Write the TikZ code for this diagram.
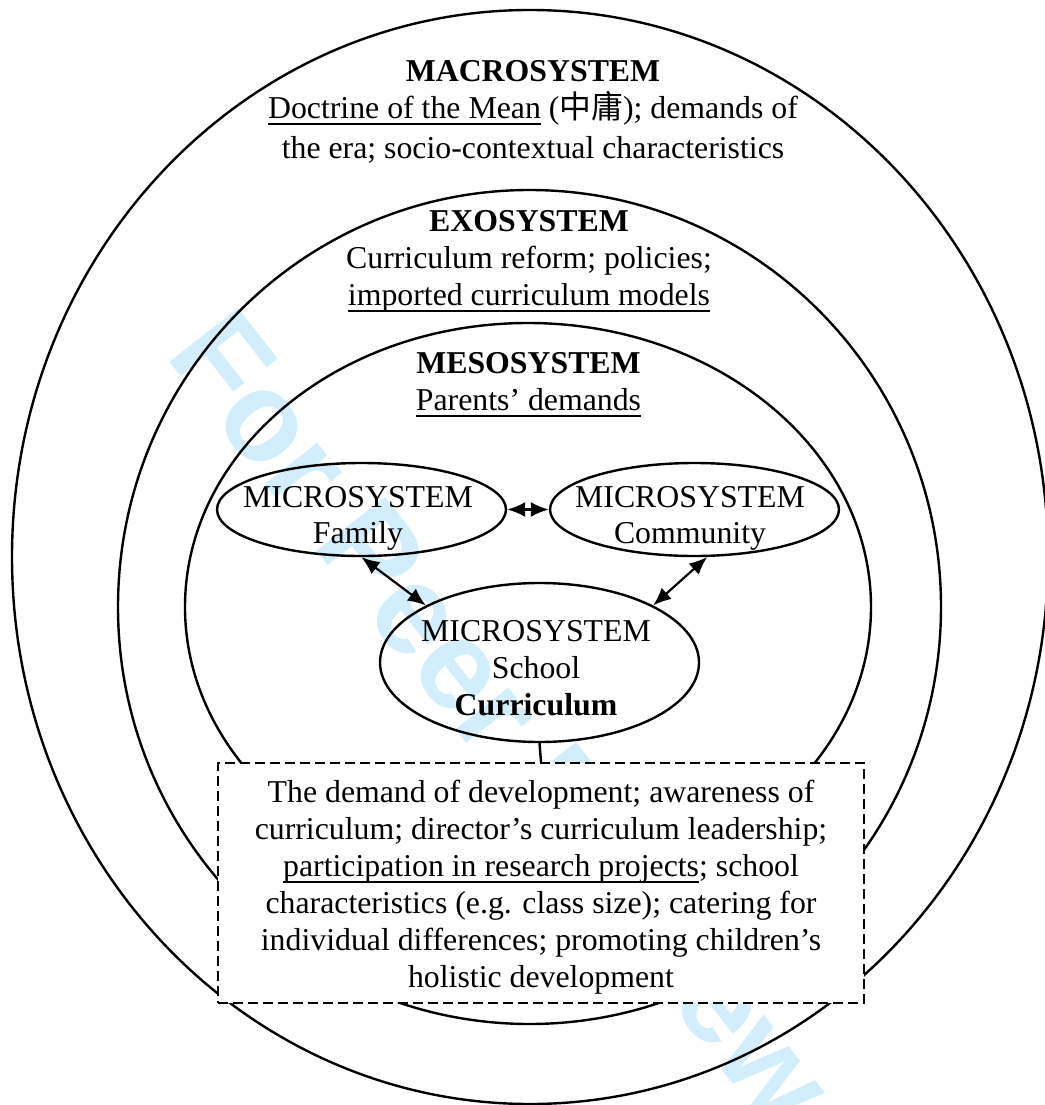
\documentclass[tikz,border=0pt]{standalone}
\usepackage{fontspec}
\setmainfont{Liberation Serif}
\newfontfamily\cjk{Noto Sans CJK SC}
\newfontfamily\wmfont{Liberation Sans}
\usetikzlibrary{positioning,arrows.meta,shapes.geometric}

\definecolor{wmblue}{RGB}{210,238,252}
\newlength\undlwd
\newcommand\undl[1]{\settowidth\undlwd{#1}\rlap{\rule[-6.5pt]{\undlwd}{1.8pt}}#1}

\begin{document}
\begin{tikzpicture}[x=1pt, y=-1pt, >={Latex[length=18pt,width=15pt]},
  every node/.style={font=\fontsize{31.8}{37}\selectfont},
  sys/.style={draw, ellipse, line width=2.4pt, inner sep=0pt},
  txt/.style={align=center, anchor=base, inner sep=0pt},
  link/.style={<->, line width=2.2pt},
  note/.style={draw, fill=white, line width=2.2pt, dash pattern=on 10pt off 5pt,
    minimum width=646pt, minimum height=240pt, inner sep=0pt}]
  \useasboundingbox (0,0) rectangle (1044,1105);
  % watermark
  \node[text=wmblue, rotate=-52, inner sep=0pt,
    font=\wmfont\bfseries\fontsize{127}{127}\selectfont] (wm) at (504,717) {For Peer Review};
  % nested systems
  \node[sys, minimum width=1036pt, minimum height=1094pt] (macro) at (530,557) {};
  \node[sys, minimum width=823pt, minimum height=834pt] (exo) at (529.5,607) {};
  \node[sys, minimum width=686pt, minimum height=568pt] (meso) at (528,607) {};
  \node[sys, minimum width=289pt, minimum height=93pt] (fam) at (361.5,509.5) {};
  \node[sys, minimum width=289pt, minimum height=93pt] (comm) at (694.5,509.5) {};
  \node[sys, minimum width=319pt, minimum height=159pt] (school) at (539.5,662.5) {};
  \draw[link] (fam) -- (comm);
  \draw[link] (fam.south) -- (school.north west);
  \draw[link] (comm.-75) -- (school.north east);
  \node[note] (box) at (541,883) {};
  \draw[line width=2.4pt] (school.south) -- (box.north);
  % labels (base = last line)
  \node[txt] (macrotxt) at (533,158) {\textbf{MACROSYSTEM}\\
    \undl{Doctrine of the Mean} ({\cjk 中庸}); demands of\\[3pt]
    the era; socio-contextual characteristics};
  \node[txt] (exotxt) at (529,305) {\textbf{EXOSYSTEM}\\
    Curriculum reform; policies;\\ \undl{imported curriculum models}};
  \node[txt] (mesotxt) at (528.5,410) {\textbf{MESOSYSTEM}\\ \undl{Parents’ demands}};
  \node[txt] (famtxt) at (358,543) {MICROSYSTEM\\[-1pt] Family};
  \node[txt] (commtxt) at (690,543) {MICROSYSTEM\\[-1pt] Community};
  \node[txt] (schooltxt) at (536,715) {MICROSYSTEM\\ School\\ \textbf{Curriculum}};
  \node[txt] (boxtxt) at (541,987) {The demand of development; awareness of\\
    curriculum; director’s curriculum leadership;\\
    \undl{participation in research projects}; school\\
    characteristics (e.g. class size); catering for\\
    individual differences; promoting children’s\\
    holistic development};
\end{tikzpicture}
\end{document}
